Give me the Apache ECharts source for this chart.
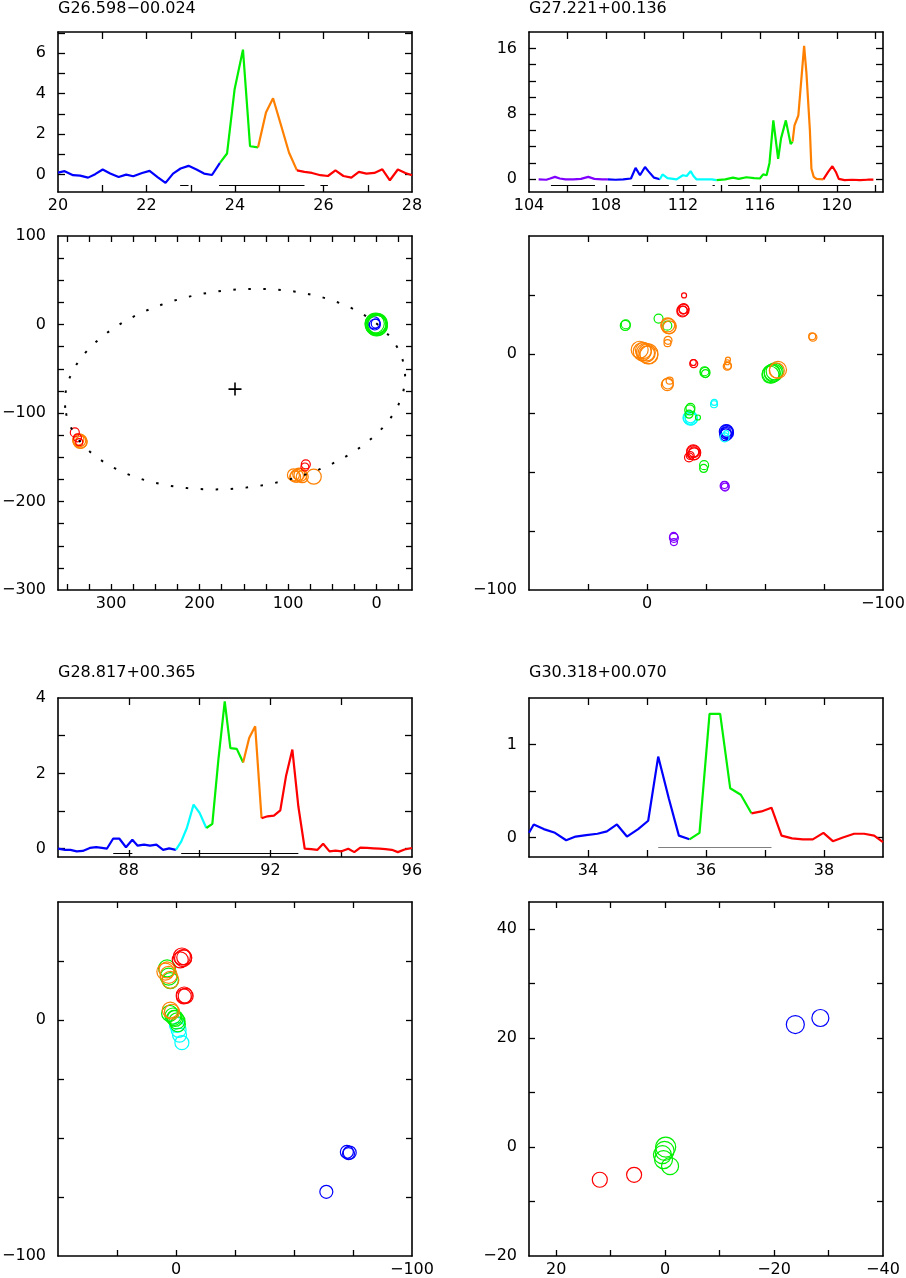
<!DOCTYPE html>
<html><head><meta charset="utf-8">
<script src="https://cdn.jsdelivr.net/npm/echarts@6/dist/echarts.min.js"></script>
<style>html,body{margin:0;padding:0;background:#fff}#c{width:906px;height:1278px}</style>
</head><body><div id="c"></div>
<script>
// ---------------- DATA ----------------
const titles = ['G26.598\u221200.024', 'G27.221+00.136', 'G28.817+00.365', 'G30.318+00.070'];

// Spectrum 1 (G26.598-00.024)
const spec1Vel = [20.0,20.15,20.34,20.5,20.68,20.84,21.01,21.18,21.37,21.54,21.7,21.9,22.07,22.25,22.43,22.6,22.77,22.95,23.13,23.3,23.48,23.66,23.82,23.99,24.18,24.34,24.52,24.7,24.86,25.05,25.22,25.4,25.57,25.74,25.93,26.1,26.27,26.45,26.63,26.8,26.97,27.15,27.33,27.5,27.68,27.85,28.0];
const spec1Flux = [0.1,0.17,-0.03,-0.05,-0.15,0.02,0.25,0.05,-0.12,0.0,-0.08,0.08,0.18,-0.12,-0.41,0.05,0.3,0.43,0.25,0.05,-0.02,0.58,1.04,4.2,6.17,1.4,1.34,3.07,3.77,2.36,1.09,0.21,0.13,0.08,-0.03,-0.07,0.21,-0.07,-0.15,0.13,0.05,0.08,0.26,-0.28,0.25,0.08,-0.03];
const spec1Breaks = [20.0, 23.66, 24.52, 25.4, 28.0];
const spec1Colors = ['blue', 'green', 'orange', 'red'];
const spec1Ranges = [[22.76, 22.95], [23.64, 25.57], [25.93, 26.1]];
const spec1RangeLevel = -0.53;

// Spectrum 2 (G27.221+00.136)
const spec2Vel = [104.5,104.9,105.1,105.35,105.6,105.9,106.3,106.7,107.08,107.4,107.8,108.1,108.5,108.9,109.3,109.54,109.77,110.03,110.2,110.5,110.8,110.94,111.2,111.67,112.0,112.2,112.4,112.55,112.7,113.1,113.5,113.75,114.2,114.6,114.9,115.3,115.7,116.0,116.17,116.35,116.5,116.7,116.78,116.95,117.1,117.35,117.6,117.7,117.8,118.0,118.3,118.42,118.6,118.68,118.8,118.94,119.3,119.55,119.77,119.95,120.1,120.4,120.8,121.2,121.6,121.9];
const spec2Flux = [0.0,-0.05,0.1,0.3,0.1,0.0,0.0,0.05,0.3,0.05,0.0,0.0,-0.05,0.0,0.1,1.4,0.5,1.5,1.0,0.2,0.0,0.6,0.15,0.0,0.5,0.4,1.0,0.4,0.0,0.0,0.0,-0.1,0.0,0.2,0.05,0.25,0.15,0.1,0.6,0.5,2.0,7.2,7.0,2.5,5.0,7.2,4.3,4.6,6.6,7.8,16.3,13.0,6.0,1.3,0.3,0.05,0.0,0.9,1.6,0.9,0.05,-0.1,-0.05,-0.1,-0.05,-0.05];
const spec2Breaks = [104.5, 108.1, 110.8, 113.75, 117.7, 119.3, 121.9];
const spec2Colors = ['purple', 'blue', 'cyan', 'green', 'orange', 'red'];
const spec2Ranges = [[105.14, 107.43], [109.37, 111.27], [111.67, 112.71], [113.54, 113.66], [114.35, 115.48], [116.1, 120.68]];
const spec2RangeLevel = -0.73;

// Spectrum 3 (G28.817+00.365)
const spec3Vel = [86.0,86.2,86.35,86.53,86.7,86.9,87.08,87.24,87.38,87.56,87.73,87.92,88.1,88.25,88.43,88.6,88.78,88.97,89.14,89.33,89.48,89.64,89.83,90.0,90.19,90.36,90.53,90.71,90.87,91.05,91.23,91.4,91.57,91.75,91.92,92.1,92.28,92.44,92.62,92.79,92.97,93.15,93.33,93.49,93.67,93.84,94.01,94.2,94.37,94.54,94.73,94.91,95.08,95.25,95.43,95.6,95.79,96.0];
const spec3Flux = [0.0,-0.03,-0.03,-0.07,-0.06,0.02,0.04,0.02,0.0,0.27,0.27,0.04,0.24,0.08,0.11,0.08,0.11,-0.03,0.01,-0.03,0.19,0.55,1.17,0.95,0.55,0.66,2.36,3.91,2.67,2.65,2.29,2.94,3.25,0.81,0.86,0.88,1.02,1.92,2.63,1.12,0.0,-0.01,-0.03,0.13,-0.07,-0.05,-0.07,0.0,-0.09,0.03,0.02,0.01,0.0,-0.01,-0.03,-0.09,-0.02,0.02];
const spec3Breaks = [86.0, 89.33, 90.19, 91.23, 91.75, 96.0];
const spec3Colors = ['blue', 'cyan', 'green', 'orange', 'red'];
const spec3Ranges = [[87.56, 88.1], [89.48, 92.79]];
const spec3RangeLevel = -0.115;

// Spectrum 4 (G30.318+00.070)
const spec4Vel = [33.0,33.08,33.25,33.44,33.63,33.79,33.97,34.16,34.32,34.49,34.66,34.85,35.02,35.19,35.37,35.54,35.72,35.89,36.06,36.24,36.41,36.59,36.77,36.94,37.11,37.28,37.46,37.64,37.81,37.99,38.15,38.32,38.51,38.68,38.85,39.0];
const spec4Flux = [0.05,0.14,0.09,0.05,-0.03,0.01,0.025,0.04,0.065,0.14,0.01,0.09,0.18,0.87,0.42,0.02,-0.02,0.05,1.33,1.33,0.53,0.46,0.26,0.28,0.32,0.02,-0.01,-0.02,-0.02,0.05,-0.04,0.0,0.04,0.04,0.02,-0.05];
const spec4Breaks = [33.0, 35.72, 36.77, 39.0];
const spec4Colors = ['blue', 'green', 'red'];
const spec4Ranges = [[35.19, 37.11]];
const spec4RangeLevel = -0.11;

// Spot maps: [RA offset, Dec offset, relative spot size, colour group]
const map1Spots = [
  [1,0,21,'green'],[-1,1,20,'green'],[0,-1,21,'green'],[2,1,19,'green'],[-1,-1,20,'green'],[1,1,21,'green'],[0,0,19,'green'],
  [3,2,12,'blue'],[2,0,11,'blue'],[1,1,9,'blue'],
  [336,-131,13,'orange'],[334,-133,12,'orange'],[337,-130,11,'orange'],[335,-132,14,'orange'],
  [341,-122,9,'red'],[338,-128,8,'red'],[336,-133,7,'red'],
  [94,-170,12,'orange'],[90,-171,13,'orange'],[86,-170,13,'orange'],[84,-172,12,'orange'],[88,-169,12,'orange'],[92,-172,11,'orange'],[71,-172,15,'orange'],
  [80,-158,9,'red'],[81,-161,8,'red']
];
const map2Spots = [
  [-15.7,24.8,5,'red'],
  [-15.3,18.6,12,'red'],[-15.0,18.0,11,'red'],[-15.6,19.2,10,'red'],[-15.3,18.6,8,'red'],
  [-4.9,15.0,9,'green'],
  [9.2,12.1,10,'green'],[9.0,12.6,9,'green'],
  [-9.2,11.8,15,'orange'],[-8.8,12.3,14,'orange'],[-9.5,11.3,13,'orange'],[-8.6,12.0,9,'green'],
  [-70.3,7.1,8,'orange'],[-70.0,7.5,7,'orange'],
  [-8.9,5.8,8,'orange'],[-8.7,4.6,7,'orange'],
  [3.1,1.8,17,'orange'],[2.0,1.0,18,'orange'],[0.5,0.5,19,'orange'],[-0.4,0.1,20,'orange'],[-0.8,-0.4,18,'orange'],[1.5,1.5,16,'orange'],[0,0.3,15,'orange'],
  [-19.8,-4.1,8,'red'],[-19.6,-3.6,6,'red'],
  [-24.6,-7.8,10,'green'],[-24.4,-7.3,9,'green'],[-24.8,-8.3,8,'green'],
  [-34.3,-2.4,5,'orange'],[-34.0,-3.5,5,'orange'],[-34.0,-5.2,8,'orange'],[-34.3,-5.0,7,'orange'],
  [-55.5,-6.7,17,'orange'],[-55.0,-7.0,15,'orange'],
  [-52.7,-8.4,18,'green'],[-53.5,-8.0,18,'green'],[-54.1,-7.4,17,'green'],[-52.3,-8.8,17,'green'],[-53.0,-7.8,16,'green'],
  [-8.6,-13.0,12,'orange'],[-9.6,-11.3,7,'orange'],[-8.8,-12.5,11,'orange'],
  [-28.4,-21.3,7,'cyan'],[-28.5,-20.5,6,'cyan'],
  [-18.1,-23.7,10,'green'],[-18.4,-22.8,9,'green'],[-21.6,-26.9,5,'green'],[-17.8,-25.5,8,'green'],
  [-18.4,-27.2,14,'cyan'],[-18.0,-27.0,13,'cyan'],[-18.8,-27.5,12,'cyan'],[-18.4,-26.8,11,'cyan'],
  [-33.6,-32.9,14,'blue'],[-33.9,-33.5,13,'blue'],[-33.4,-34.3,12,'blue'],[-33.8,-32.7,12,'blue'],[-33.6,-33.3,10,'blue'],
  [-32.9,-35.3,9,'cyan'],[-33.6,-33.5,5,'cyan'],
  [-19.8,-41.8,14,'red'],[-19.6,-41.2,13,'red'],[-20.0,-42.3,12,'red'],[-19.8,-41.5,10,'red'],[-17.8,-43.8,9,'red'],[-18.3,-43.0,8,'red'],
  [-24.2,-47.1,9,'green'],[-24.0,-48.5,8,'green'],
  [-32.9,-55.9,9,'purple'],[-33.1,-56.4,8,'purple'],[-32.8,-55.5,7,'purple'],
  [-11.4,-77.9,9,'purple'],[-11.3,-77.3,8,'purple'],[-11.4,-79.7,7,'purple']
];
const map3Spots = [
  [-2.5,26.9,17,'red'],[-3.0,26.2,17,'red'],[-1.8,25.5,16,'red'],[-3.5,26.5,15,'red'],
  [-3.5,10.6,16,'red'],[-4.1,10.2,15,'red'],[-3.3,10.0,15,'red'],
  [4.5,20.5,17,'orange'],[3.8,21.2,16,'orange'],[3.1,19.1,17,'orange'],[2.4,17.0,17,'orange'],
  [3.8,21.9,17,'green'],[3.1,18.4,17,'green'],[2.4,16.7,16,'green'],
  [2.4,4.2,16,'orange'],[1.7,3.5,15,'orange'],
  [2.7,2.8,16,'green'],[1.3,1.7,16,'green'],[0.3,0.7,16,'green'],[-0.4,-0.4,16,'green'],[-0.8,-1.8,15,'green'],[0.8,0.9,15,'green'],
  [-0.4,-2.1,15,'cyan'],[-1.1,-4.2,15,'cyan'],[-1.5,-6.4,14,'cyan'],[-2.5,-9.6,14,'cyan'],
  [-72.4,-55.9,13,'blue'],[-73.6,-56.2,13,'blue'],[-73.1,-56.6,12,'blue'],[-63.7,-72.8,13,'blue']
];
const map4Spots = [
  [-23.9,22.5,18,'blue'],[-28.5,23.7,17,'blue'],
  [-0.1,0.0,20,'green'],[0.1,-0.7,19,'green'],[0.5,-1.4,18,'green'],[0.3,-2.3,18,'green'],[-0.9,-3.5,17,'green'],
  [12.0,-6.0,15,'red'],[5.7,-5.1,15,'red']
];

// Ring fit for G26.598-00.024: centre, semi-axes, position angle (rad)
const ringCenter = [160, -73];
const ringSemiAxes = [193, 112];
const ringAngle = 0.11;

// Axis tick / label values
const ax1x = {min:20, max:28, ticks:[21,22,23,24,25,26,27], labels:[20,22,24,26,28]};
const ax1y = {min:-0.86, max:7.04, ticks:[0,1,2,3,4,5,6,7], labels:[0,2,4,6]};
const ax2x = {min:104, max:122.4, ticks:[106,108,110,112,114,116,118,120,122], labels:[104,108,112,116,120]};
const ax2y = {min:-1.55, max:18, ticks:[0,2,4,6,8,10,12,14,16], labels:[0,8,16]};
const ax3x = {min:86, max:96, ticks:[88,90,92,94], labels:[88,92,96]};
const ax3y = {min:-0.22, max:4, ticks:[0,1,2,3], labels:[0,2,4]};
const ax4x = {min:33, max:39, ticks:[34,35,36,37,38], labels:[34,36,38]};
const ax4y = {min:-0.21, max:1.5, ticks:[0,0.5,1], labels:[0,1]};
const m1x = {min:-40, max:360, inverse:true, ticks:[-25,0,25,50,75,100,125,150,175,200,225,250,275,300,325,350], labels:[300,200,100,0]};
const m1y = {min:-300, max:100, ticks:[-275,-250,-225,-200,-175,-150,-125,-100,-75,-50,-25,0,25,50,75], labels:[100,0,-100,-200,-300]};
const m2x = {min:-100, max:50, inverse:true, ticks:[-75,-50,-25,0,25], labels:[0,-100]};
const m2y = {min:-100, max:50, ticks:[-75,-50,-25,0,25], labels:[0,-100]};
const m4x = {min:-40, max:25, inverse:true, ticks:[-30,-20,-10,0,10,20], labels:[20,0,-20,-40]};
const m4y = {min:-20, max:45, ticks:[-10,0,10,20,30,40], labels:[40,20,0,-20]};

// ---------------- CHART ----------------
const COLORS = {blue:'#0000ff', green:'#00f000', orange:'#ff8000', red:'#ff0000', cyan:'#00ffff', purple:'#8000ff'};
const FONT = '"DejaVu Sans", Verdana, sans-serif';
const option = {animation:false, backgroundColor:'#fff', title:[], grid:[], xAxis:[], yAxis:[], series:[]};
function fmt(v){ return String(v).replace('-', '\u2212'); }

function addGrid(rect, xc, yc, tickLen){
  const gi = option.grid.length;
  option.grid.push({left:rect[0], top:rect[1], width:rect[2], height:rect[3], containLabel:false, outerBoundsMode:'none'});
  const mk = (c, pos, show, isX) => ({
    type:'value', gridIndex:gi, position:pos, min:c.min, max:c.max, inverse:!!c.inverse,
    splitLine:{show:false},
    axisLine:{show:true, onZero:false, lineStyle:{color:'#000', width:1.6}},
    axisTick:{show:true, inside:true, length:tickLen, customValues:c.ticks, lineStyle:{color:'#000', width:1.3}},
    axisLabel:{show:show, customValues:c.labels, color:'#000', fontSize:16, fontFamily:FONT,
               margin: isX ? 6 : 12, formatter:fmt, hideOverlap:false}
  });
  option.xAxis.push(mk(xc,'bottom',true,true), mk(xc,'top',false,true));
  option.yAxis.push(mk(yc,'left',true,false), mk(yc,'right',false,false));
  return {xAxisIndex:2*gi, yAxisIndex:2*gi};
}

function addSpectrum(ax, vel, flux, breaks, colors, ranges, level, rangeColor){
  for (let k = 0; k < colors.length; k++){
    const data = [];
    for (let i = 0; i < vel.length; i++)
      if (vel[i] >= breaks[k] - 1e-9 && vel[i] <= breaks[k+1] + 1e-9) data.push([vel[i], flux[i]]);
    option.series.push({type:'line', xAxisIndex:ax.xAxisIndex, yAxisIndex:ax.yAxisIndex, data:data,
      showSymbol:false, symbol:'none', silent:true, z:3, lineStyle:{color:COLORS[colors[k]], width:2.2}});
  }
  option.series.push({type:'lines', coordinateSystem:'cartesian2d', xAxisIndex:ax.xAxisIndex, yAxisIndex:ax.yAxisIndex,
    silent:true, z:2, lineStyle:{color:rangeColor, width:1.2, opacity:1},
    data: ranges.map(r => ({coords:[[r[0], level], [r[1], level]]}))});
}

function addSpots(ax, spots){
  ['purple','blue','cyan','green','orange','red'].forEach(cn => {
    const d = spots.filter(s => s[3] === cn).map(s => [s[0], s[1], s[2]]);
    if (!d.length) return;
    option.series.push({type:'scatter', xAxisIndex:ax.xAxisIndex, yAxisIndex:ax.yAxisIndex, data:d, silent:true,
      symbol:'circle', symbolSize: v => v[2],
      itemStyle:{color:'rgba(0,0,0,0)', borderColor:COLORS[cn], borderWidth:1.2, opacity:1}});
  });
}

// Titles
[[58,1],[529,1],[58,665],[529,665]].forEach((p,i) => option.title.push({text:titles[i], left:p[0], top:p[1], padding:0,
  textStyle:{fontSize:16, fontWeight:'normal', color:'#000', fontFamily:FONT}}));

// Panel 1
const g1s = addGrid([58,32,354,160], ax1x, ax1y, 7);
addSpectrum(g1s, spec1Vel, spec1Flux, spec1Breaks, spec1Colors, spec1Ranges, spec1RangeLevel, '#000');
const g1m = addGrid([58,236,354,354], m1x, m1y, 6);
const ringPts = [];
for (let t = 0; t <= 360; t += 2){
  const r = t*Math.PI/180, c = Math.cos(ringAngle), s = Math.sin(ringAngle);
  ringPts.push([ringCenter[0] + ringSemiAxes[0]*Math.cos(r)*c + ringSemiAxes[1]*Math.sin(r)*s,
                ringCenter[1] - ringSemiAxes[0]*Math.cos(r)*s + ringSemiAxes[1]*Math.sin(r)*c]);
}
option.series.push({type:'line', xAxisIndex:g1m.xAxisIndex, yAxisIndex:g1m.yAxisIndex, data:ringPts, showSymbol:false,
  symbol:'none', silent:true, lineStyle:{color:'#000', width:2, type:[2.5,12.5]}});
option.series.push({type:'scatter', xAxisIndex:g1m.xAxisIndex, yAxisIndex:g1m.yAxisIndex, data:[ringCenter], silent:true,
  symbol:'path://M0,6H12M6,0V12', symbolSize:13, itemStyle:{color:'none', borderColor:'#000', borderWidth:1.6, opacity:1}});
addSpots(g1m, map1Spots);

// Panel 2
const g2s = addGrid([529,32,354,160], ax2x, ax2y, 7);
addSpectrum(g2s, spec2Vel, spec2Flux, spec2Breaks, spec2Colors, spec2Ranges, spec2RangeLevel, '#000');
const g2m = addGrid([529,236,354,354], m2x, m2y, 6);
addSpots(g2m, map2Spots);

// Panel 3
const g3s = addGrid([58,698,354,159], ax3x, ax3y, 7);
addSpectrum(g3s, spec3Vel, spec3Flux, spec3Breaks, spec3Colors, spec3Ranges, spec3RangeLevel, '#000');
const g3m = addGrid([58,902,354,354], m2x, m2y, 6);
addSpots(g3m, map3Spots);

// Panel 4
const g4s = addGrid([529,698,354,159], ax4x, ax4y, 7);
addSpectrum(g4s, spec4Vel, spec4Flux, spec4Breaks, spec4Colors, spec4Ranges, spec4RangeLevel, '#808080');
const g4m = addGrid([529,902,354,354], m4x, m4y, 6);
addSpots(g4m, map4Spots);

const chart = echarts.init(document.getElementById('c'), null, {renderer:'canvas'});
chart.setOption(option);
</script>
</body></html>
